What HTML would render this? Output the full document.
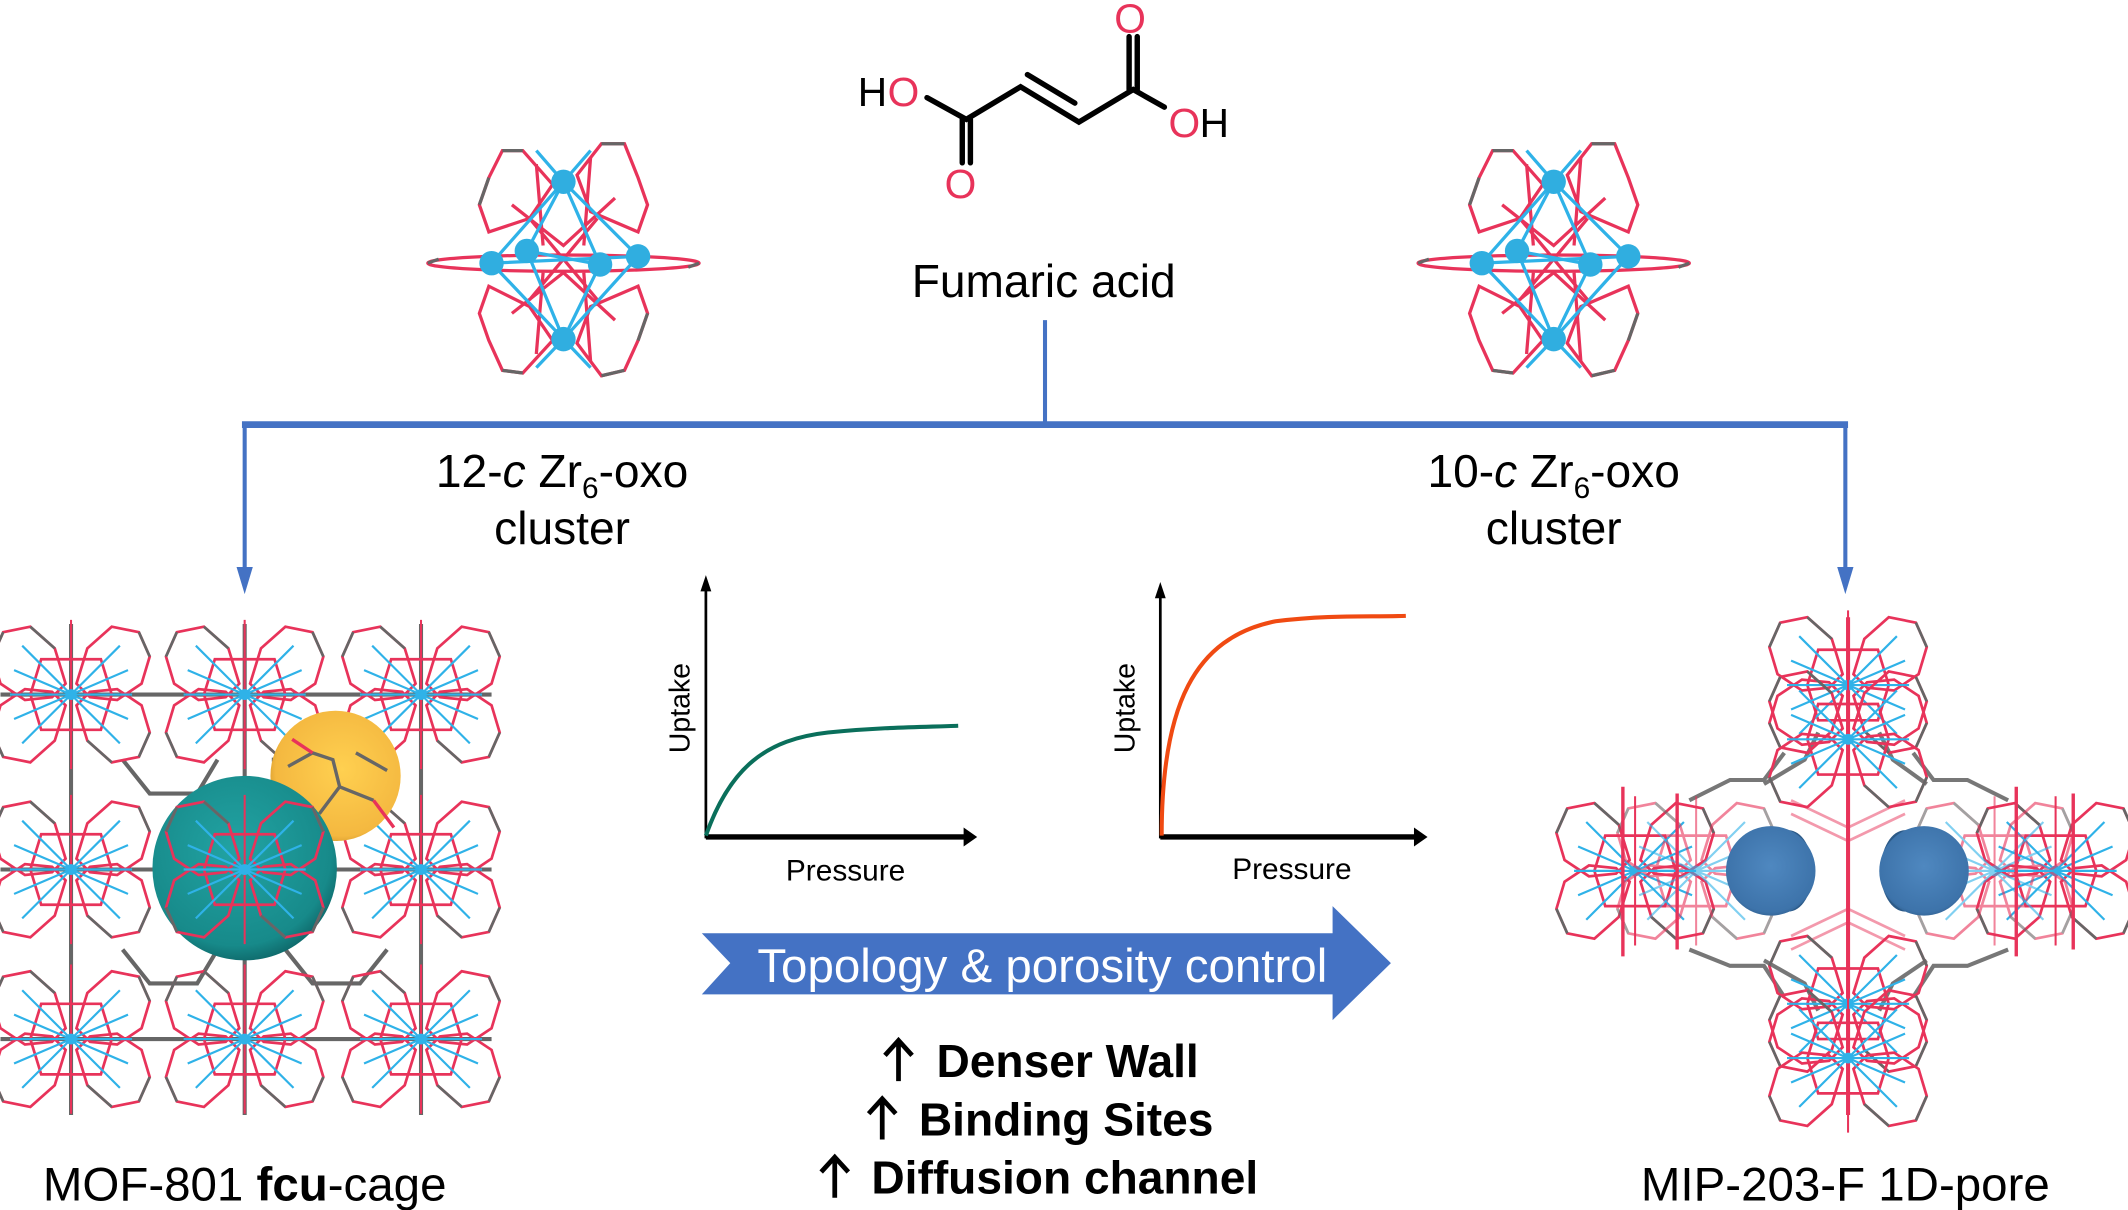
<!DOCTYPE html>
<html><head><meta charset="utf-8"><style>
html,body{margin:0;padding:0;background:#fff;}
svg{display:block;}
text{font-family:"Liberation Sans",Arial,sans-serif;}
</style></head><body>
<svg width="2128" height="1210" viewBox="0 0 1568 892" xmlns="http://www.w3.org/2000/svg">
<defs>
 <radialGradient id="teal" cx="0.45" cy="0.4" r="0.65"><stop offset="0" stop-color="#22a3a3"/><stop offset="0.8" stop-color="#178a8a"/><stop offset="1" stop-color="#0c5e60"/></radialGradient>
 <radialGradient id="gold" cx="0.55" cy="0.45" r="0.6"><stop offset="0" stop-color="#ffd050"/><stop offset="0.85" stop-color="#f4b840"/><stop offset="1" stop-color="#d0962a"/></radialGradient>
 <radialGradient id="blue" cx="0.5" cy="0.45" r="0.6"><stop offset="0" stop-color="#4f88c0"/><stop offset="0.85" stop-color="#3d73aa"/><stop offset="1" stop-color="#2c5a88"/></radialGradient>
 <g id="node">
  <g fill="none" stroke="#e8335a" stroke-width="2">
   <polygon points="-4,-8 -12,-34 -30,-50 -50,-46 -58,-28 -52,-8 -34,4 -14,2"/>
   <polygon points="4,-8 12,-34 30,-50 50,-46 58,-28 52,-8 34,4 14,2"/>
   <polygon points="-4,8 -12,34 -30,50 -50,46 -58,28 -52,8 -34,-4 -14,-2"/>
   <polygon points="4,8 12,34 30,50 50,46 58,28 52,8 34,-4 14,-2"/>
   <polygon points="-22,-26 22,-26 30,0 22,26 -22,26 -30,0"/>
  </g>
  <g stroke="#666" stroke-width="2" fill="none">
   <path d="M-50,-46 L-58,-28 M50,-46 L58,-28 M-50,46 L-58,28 M50,46 L58,28 M-12,-34 L-30,-50 M12,34 L30,50"/>
  </g>
  <g stroke="#2fb2e8" stroke-width="1.6" fill="none">
   <path d="M-36,-36 L36,36 M36,-36 L-36,36 M-45,0 L45,0 M-42,-18 L42,18 M-42,18 L42,-18"/>
  </g>
  <path d="M0,-55 L0,55" stroke="#e8335a" stroke-width="1.5"/>
  <circle r="4" fill="#2fb2e8"/>
 </g>
 <g id="clus">
  <g fill="none" stroke="#e8335a" stroke-width="2.4">
   <path d="M-55,-60 L-45,-80 L-30,-80 L-8,-55 L-25,-30 L-55,-20 L-62,-40 Z"/>
   <path d="M55,-60 L45,-85 L28,-85 L10,-62 L20,-35 L55,-20 L62,-40 Z"/>
   <path d="M-55,60 L-45,82 L-30,84 L-8,60 L-25,35 L-55,20 L-62,40 Z"/>
   <path d="M55,60 L45,82 L28,86 L10,62 L20,35 L55,20 L62,40 Z"/>
   <path d="M-38,-40 L0,-10 L38,-45 M-38,40 L0,10 L38,45 M-25,-30 L25,30 M25,-30 L-25,30 M-20,-70 L-15,-10 M20,-75 L15,-10 M-20,70 L-15,10 M20,75 L15,10"/>
   <ellipse cx="0" cy="3" rx="100" ry="6"/>
  </g>
  <g fill="none" stroke="#666" stroke-width="2.4"><path d="M-45,-80 L-30,-80 M45,-85 L28,-85 M-45,82 L-30,84 M45,82 L28,86 M-100,3 L-92,0 M100,3 L92,6 M-62,-40 L-55,-60 M62,40 L55,60"/></g>
  <g stroke="#2fb2e8" stroke-width="2.4" fill="none"><path d="M0,-57 L-53,3 L0,59 L55,-2 Z M0,-57 L-27,-6 L0,59 L27,4 Z M-53,3 L55,-2 M-27,-6 L27,4 M0,-57 L-20,-80 M0,-57 L20,-80 M0,59 L-20,80 M0,59 L20,80"/></g>
  <g fill="#30aee0"><circle cx="0" cy="-57" r="9"/><circle cx="0" cy="59" r="9"/><circle cx="-53" cy="3" r="9"/><circle cx="55" cy="-2" r="9"/><circle cx="-27" cy="-6" r="9"/><circle cx="27" cy="4" r="9"/></g>
 </g>
</defs>

<g stroke="#000" stroke-width="4" fill="none" stroke-linecap="round">
 <path d="M683,72 L712,88 L752,64 L795,90 L835,66 L858,79"/>
 <path d="M757,55 L792,76"/>
 <path d="M709,88 L709,120 M715,88 L715,120"/>
 <path d="M832,66 L832,27 M838,66 L838,27"/>
</g>
<text x="632" y="78" font-size="30" fill="#000">H</text>
<text x="654" y="78" font-size="30" fill="#e8335a">O</text>
<text x="696" y="146" font-size="30" fill="#e8335a">O</text>
<text x="821" y="24" font-size="30" fill="#e8335a">O</text>
<text x="861" y="101" font-size="30" fill="#e8335a">O</text>
<text x="884" y="101" font-size="30" fill="#000">H</text>
<text x="769" y="219" font-size="34" text-anchor="middle" fill="#000">Fumaric acid</text>

<use href="#clus" x="415" y="191"/>
<use href="#clus" x="1145" y="191"/>

<g stroke="#4472c4" fill="none">
 <path d="M770,236 L770,312" stroke-width="3"/>
 <path d="M178,313 L1362,313" stroke-width="5"/>
 <path d="M180,313 L180,420 M1360,313 L1360,420" stroke-width="3"/>
</g>
<path d="M174,418 L186,418 L180,438 Z M1354,418 L1366,418 L1360,438 Z" fill="#4472c4"/>

<text x="414" y="359" font-size="34" text-anchor="middle">12-<tspan font-style="italic">c</tspan> Zr<tspan font-size="22" dy="8">6</tspan><tspan dy="-8">-oxo</tspan></text>
<text x="414" y="401" font-size="34" text-anchor="middle">cluster</text>
<text x="1145" y="359" font-size="34" text-anchor="middle">10-<tspan font-style="italic">c</tspan> Zr<tspan font-size="22" dy="8">6</tspan><tspan dy="-8">-oxo</tspan></text>
<text x="1145" y="401" font-size="34" text-anchor="middle">cluster</text>

<g stroke="#000" fill="none">
 <path d="M520,618 L520,432" stroke-width="2"/>
 <path d="M520,617 L712,617" stroke-width="4"/>
 <path d="M855,618 L855,437" stroke-width="2"/>
 <path d="M855,617 L1044,617" stroke-width="4"/>
</g>
<path d="M516,436 L520,424 L524,436 Z M851,441 L855,429 L859,441 Z M710,610 L720,617 L710,624 Z M1042,610 L1052,617 L1042,624 Z" fill="#000"/>
<path d="M520,616 C538,565 565,545 610,540 C650,536 680,536 706,535" stroke="#0a6f5b" stroke-width="3" fill="none"/>
<path d="M856,616 C856,520 880,470 940,458 C980,453 1010,455 1036,454" stroke="#f04a12" stroke-width="3" fill="none"/>
<text transform="translate(508,522) rotate(-90)" font-size="21" text-anchor="middle">Uptake</text>
<text transform="translate(836,522) rotate(-90)" font-size="21" text-anchor="middle">Uptake</text>
<text x="623" y="649" font-size="22" text-anchor="middle">Pressure</text>
<text x="952" y="648" font-size="22" text-anchor="middle">Pressure</text>

<path d="M517,688 L982,688 L982,668 L1025,710 L982,752 L982,733 L517,733 L538,710 Z" fill="#4472c4"/>
<text x="768" y="724" font-size="35" fill="#fff" text-anchor="middle">Topology &amp; porosity control</text>

<g font-size="34" font-weight="bold">
 <text x="690" y="794">Denser Wall</text>
 <text x="677" y="837">Binding Sites</text>
 <text x="642" y="880">Diffusion channel</text>
</g>
<g stroke="#000" stroke-width="3.5" fill="none">
 <path d="M662,797 L662,768 M652,778 L662,767 L672,778"/>
 <path d="M650,840 L650,811 M640,821 L650,810 L660,821"/>
 <path d="M615,883 L615,854 M605,864 L615,853 L625,864"/>
</g>

<g stroke="#666" stroke-width="3" fill="none">
 <path d="M0,512 L362,512 M0,641 L362,641 M0,766 L362,766 M52,460 L52,822 M180,460 L180,822 M310,460 L310,822"/>
 <path d="M90,560 L110,585 L145,585 L160,560 M90,700 L110,725 L145,725 L160,700 M210,700 L230,725 L265,725 L285,700 M200,560 L230,560 L247,590 L247,620"/>
</g>
<g>
 <use href="#node" x="52" y="512"/><use href="#node" x="180" y="512"/><use href="#node" x="310" y="512"/>
 <use href="#node" x="52" y="641"/><use href="#node" x="310" y="641"/>
 <use href="#node" x="52" y="766"/><use href="#node" x="180" y="766"/><use href="#node" x="310" y="766"/>
</g>
<circle cx="247" cy="572" r="48" fill="url(#gold)"/>
<path d="M212,565 L230,555 L245,560 L250,580 L235,600 M262,555 L285,568 M250,580 L275,590" stroke="#666" stroke-width="2.5" fill="none"/>
<path d="M215,545 L230,555 M275,590 L290,610" stroke="#e8335a" stroke-width="2.5" fill="none"/>
<circle cx="180" cy="640" r="68" fill="url(#teal)"/>
<use href="#node" x="180" y="641"/>

<g stroke="#777" stroke-width="3" fill="none">
 <path d="M1300,578 L1330,560 L1340,540 M1420,578 L1395,560 L1385,540 M1300,708 L1330,725 L1340,745 M1420,708 L1395,725 L1385,745"/>
 <path d="M1245,590 L1275,575 L1300,575 L1315,555 M1480,590 L1450,575 L1425,575 L1410,555 M1245,700 L1275,712 L1300,712 L1315,735 M1480,700 L1450,712 L1425,712 L1410,735"/>
</g>
<g stroke="#e8335a" stroke-width="2" opacity="0.5" fill="none">
 <path d="M1320,590 L1362,610 L1404,590 M1320,600 L1362,620 L1404,600 M1320,690 L1362,670 L1404,690 M1320,700 L1362,680 L1404,700"/>
</g>
<path d="M1362,455 L1362,822" stroke="#e8335a" stroke-width="3"/>
<use href="#node" x="1362" y="505"/>
<use href="#node" x="1362" y="545"/>
<use href="#node" x="1362" y="740"/>
<use href="#node" x="1362" y="780"/>
<use href="#node" x="1205" y="642"/>
<use href="#node" x="1250" y="642" opacity="0.6"/>
<use href="#node" x="1515" y="642"/>
<use href="#node" x="1470" y="642" opacity="0.6"/>
<g stroke="#e8335a" stroke-width="2.5"><path d="M1196,580 L1196,705 M1236,585 L1236,700 M1486,580 L1486,705 M1528,585 L1528,700"/></g>
<ellipse cx="1318" cy="642" rx="18" ry="30" fill="#2c5a88"/>
<ellipse cx="1404" cy="642" rx="18" ry="30" fill="#2c5a88"/>
<ellipse cx="1305" cy="642" rx="33" ry="33" fill="url(#blue)"/>
<ellipse cx="1418" cy="642" rx="33" ry="33" fill="url(#blue)"/>

<text x="180" y="885" font-size="35" text-anchor="middle">MOF-801 <tspan font-weight="bold">fcu</tspan>-cage</text>
<text x="1360" y="885" font-size="35" text-anchor="middle">MIP-203-F 1D-pore</text>
</svg>
</body></html>
